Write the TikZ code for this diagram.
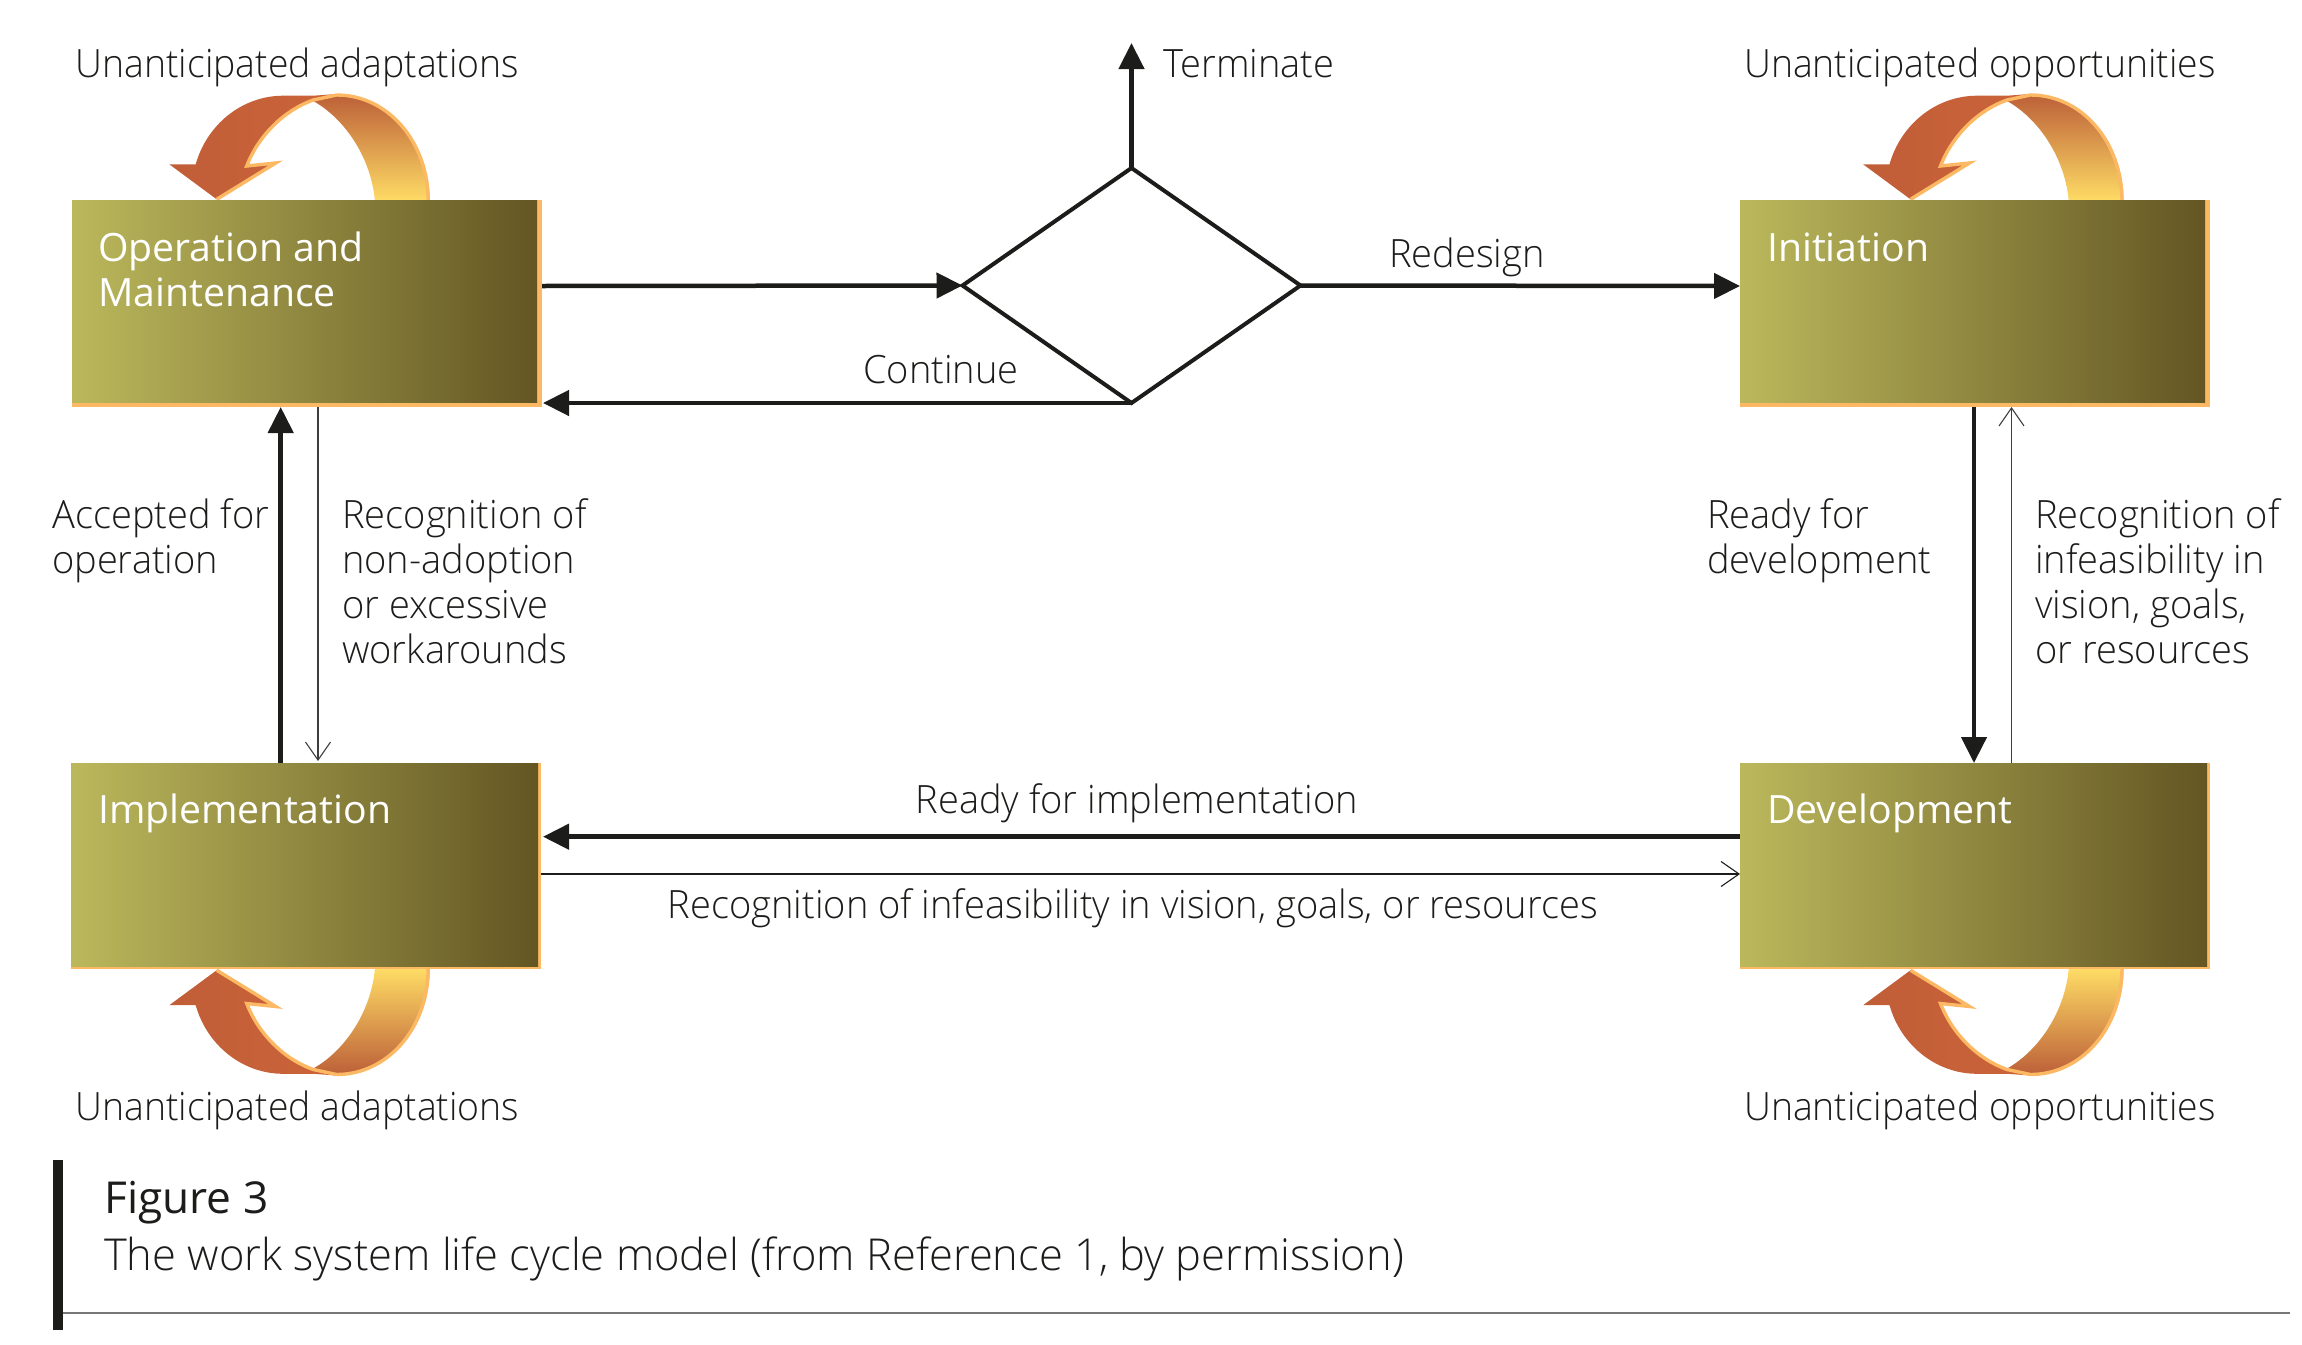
\documentclass[tikz,border=0pt]{standalone}
\usepackage{fontspec}
\setmainfont{Open Sans Light}[FakeStretch=0.975]
\newfontfamily\unantfont{Open Sans Light}[FakeStretch=0.958]
\newfontfamily\capfont{Open Sans Light}[FakeStretch=0.987]
\newfontfamily\ttlfont{Open Sans}[FakeStretch=1.005]
\usetikzlibrary{arrows.meta,shapes.geometric,shadings}
\definecolor{ink}{HTML}{1C1C1A}
\definecolor{edgeor}{HTML}{FDB863}
\definecolor{boxl}{HTML}{BBB85C}
\definecolor{boxr}{HTML}{635623}
\definecolor{rustl}{HTML}{C05E38}
\definecolor{rustr}{HTML}{CB6339}
\definecolor{bandy}{HTML}{FFDD66}
\definecolor{bandr}{HTML}{BC5F38}
\tikzset{
 lab/.style={anchor=base west,inner sep=0pt,align=left,text=ink,font=\fontsize{39}{45}\selectfont},
 unant/.style={lab,font=\unantfont\fontsize{39}{45}\selectfont},
 ttl/.style={anchor=base west,inner sep=0pt,align=left,text=white,font=\ttlfont\fontsize{39}{45}\selectfont},
 edgebox/.style={rectangle,inner sep=0pt,outer sep=0pt,fill=edgeor,minimum width=470pt,minimum height=206pt},
 gradbox/.style={rectangle,inner sep=0pt,outer sep=0pt,left color=boxl,right color=boxr},
 thick arrow/.style={draw=ink,line width=4.5pt,-{Triangle[length=26pt,width=25pt]}},
 thin arrow/.style={draw=ink!85,line width=1.3pt,-{Straight Barb[length=18pt,width=25pt,line width=1.1pt]}},
}
\newcommand{\loopicon}[5]{%
 \begin{scope}[shift={(#1,#2)},yscale=#3]
  \path[top color=#4,bottom color=#5]
    (120,-106) .. controls (170,-106) and (213.3,-60) .. (213.3,2)
    -- (158.3,2) .. controls (155,-40) and (130,-80) .. (96.6,-99) -- cycle;
  \path[left color=rustl,right color=rustr]
    (-47.4,-35.7) -- (-21,-35.7) .. controls (-10,-75) and (25,-104.3) .. (66.6,-104.3)
    -- (96.6,-104.3) -- (120,-106) -- (96.6,-100) .. controls (68,-90) and (42,-65) .. (30,-34)
    -- (59,-37) -- (0,-0.7) -- cycle;
  \draw[edgeor,line width=3.4pt,line join=miter]
    (0,-0.7) -- (59,-37) -- (30,-34) .. controls (42,-65) and (68,-90) .. (96.6,-100)
    -- (120,-105) .. controls (170,-105) and (211.5,-60) .. (211.5,2);
 \end{scope}}
\begin{document}
\begin{tikzpicture}[x=1pt,y=-1pt]
\useasboundingbox (0,0) rectangle (2302,1344);
% feedback loops
\loopicon{216.7}{200}{1}{bandr}{bandy}
\loopicon{1910.5}{200}{1}{bandr}{bandy}
\loopicon{216.7}{969.5}{-1}{bandy}{bandr}
\loopicon{1910.5}{969.5}{-1}{bandy}{bandr}
% stage boxes
\node[edgebox,minimum height=207pt] (om) at (307,303.5) {};
\node[edgebox] (impl) at (306,866) {};
\node[edgebox,minimum height=207pt] (init) at (1975,303.5) {};
\node[edgebox] (dev) at (1975,866) {};
\node[gradbox,minimum width=465pt,minimum height=202pt,anchor=north west] (omf) at (om.north west) {};
\node[gradbox,minimum width=467pt,minimum height=203pt,anchor=north west] (implf) at (impl.north west) {};
\node[gradbox,minimum width=465pt,minimum height=202pt,anchor=north west] (initf) at (init.north west) {};
\node[gradbox,minimum width=467pt,minimum height=203pt,anchor=north west] (devf) at (dev.north west) {};
\node[ttl] (tom) at (98,306) {Operation and\\Maintenance};
\node[ttl] (timpl) at (98,823) {Implementation};
\node[ttl] (tinit) at (1767,261) {Initiation};
\node[ttl] (tdev) at (1767,823) {Development};
% decision
\node[diamond,draw=ink,line width=4pt,inner sep=0pt,outer sep=0pt,aspect=1.43,minimum width=338pt,minimum height=235pt] (dec) at (1131.5,285.5) {};
\coordinate (term) at (1131.5,43);
% connectors
\draw[thick arrow] ([yshift=17.5pt]om.east) -- (dec.west);
\draw[thick arrow] (dec.north) -- (term);
\draw[thick arrow] (dec.east) -- ([yshift=17.5pt]init.west);
\draw[thick arrow] (dec.south) -- ([yshift=-99.5pt,xshift=1pt]om.east);
\draw[thick arrow] ([xshift=-25.3pt]impl.north) -- ([xshift=-26.3pt]om.south);
\draw[thin arrow] ([xshift=11pt]om.south) -- ([xshift=12pt,yshift=2pt]impl.north);
\draw[thick arrow] ([xshift=-1pt]init.south) -- ([xshift=-1pt]dev.north);
\draw[thin arrow] ([xshift=36.5pt]dev.north) -- ([xshift=36.5pt]init.south);
\draw[thick arrow] ([yshift=29.3pt]dev.west) -- ([yshift=29.3pt,xshift=2pt]impl.east);
\draw[thin arrow,draw=ink] ([yshift=-8pt]impl.east) -- ([yshift=-8pt]dev.west);
% labels
\node[unant] (l1) at (75.5,77) {Unanticipated adaptations};
\node[unant] (l2) at (75.5,1120) {Unanticipated adaptations};
\node[unant] (l3) at (1744,77) {Unanticipated opportunities};
\node[unant] (l4) at (1744,1120) {Unanticipated opportunities};
\node[lab] (l5) at (1163,77) {Terminate};
\node[lab] (l6) at (863,383) {Continue};
\node[lab] (l7) at (1389,267) {Redesign};
\node[lab] (l8) at (52,573) {Accepted for\\operation};
\node[lab] (l9) at (342,663) {Recognition of\\non-adoption\\or excessive\\workarounds};
\node[lab] (l10) at (1707,573) {Ready for\\development};
\node[lab] (l11) at (2035,663) {Recognition of\\infeasibility in\\vision, goals,\\or resources};
\node[lab] (l12) at (915.5,813) {Ready for implementation};
\node[lab] (l13) at (667.5,918) {Recognition of infeasibility in vision, goals, or resources};
% caption
\fill[ink] (52.5,1160) rectangle (63,1330);
\draw[ink!60,line width=2pt] (63,1313) -- (2290,1313);
\node[lab,font=\ttlfont\fontsize{44}{50}\selectfont] (c1) at (104,1213) {Figure 3};
\node[lab,font=\capfont\fontsize{44}{50}\selectfont] (c2) at (104,1270) {The work system life cycle model (from Reference 1, by permission)};
\end{tikzpicture}
\end{document}
